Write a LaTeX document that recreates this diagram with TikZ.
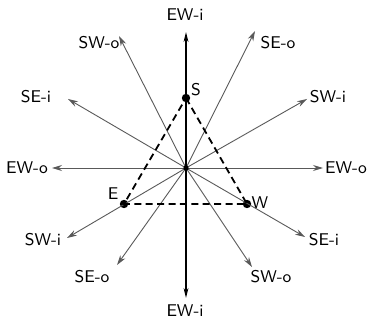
\documentclass[tikz,border=0pt]{standalone}
\usetikzlibrary{arrows.meta}
\begin{document}
\begin{tikzpicture}[x=.5pt,y=-.5pt,
    lbl/.style={font=\sffamily\fontsize{8.5}{10}\selectfont, inner sep=0pt},
    ray/.style={draw=black!65, line width=.45pt, -{Stealth[length=5pt,width=3pt]}},
    axis/.style={draw=black, line width=.7pt, -{Stealth[length=5pt,width=2.4pt]}},
    tri/.style={draw=black, line width=.9pt, dash pattern=on 3.5pt off 2.2pt},
    dot/.style={circle, fill=black, inner sep=0pt, minimum size=4.2pt}]
    \useasboundingbox (0,0) rectangle (368,330);
    % centre and station points
    \coordinate (O) at (186,168);
    \node[dot] (S) at (186,98) {};
    \node[dot] (E) at (124,204) {};
    \node[dot] (W) at (247,204) {};
    \node[lbl] (lS) at (196,90) {S};
    \node[lbl] (lE) at (113,194) {E};
    \node[lbl] (lW) at (260,203) {W};
    % arrow tips
    \coordinate (ewiU) at (186,32);
    \coordinate (ewiD) at (186,298);
    \coordinate (ewoL) at (52,168);
    \coordinate (ewoR) at (323,168);
    \coordinate (swoU) at (119,36);
    \coordinate (seoU) at (255,31);
    \coordinate (seiL) at (68,99);
    \coordinate (swiR) at (307,99);
    \coordinate (swiL) at (67,238);
    \coordinate (seiR) at (305,237);
    \coordinate (seoD) at (117,265);
    \coordinate (swoD) at (252,267);
    % labels
    \node[lbl] (lewiU) at (185,15) {EW-i};
    \node[lbl] (lewiD) at (185,311) {EW-i};
    \node[lbl] (lewoL) at (27,168) {EW-o};
    \node[lbl] (lewoR) at (346,168) {EW-o};
    \node[lbl] (lswoU) at (99,43) {SW-o};
    \node[lbl] (lseoU) at (278,43) {SE-o};
    \node[lbl] (lseiL) at (36,97) {SE-i};
    \node[lbl] (lswiR) at (328,97) {SW-i};
    \node[lbl] (lswiL) at (43,240) {SW-i};
    \node[lbl] (lseiR) at (324,240) {SE-i};
    \node[lbl] (lseoD) at (92,277) {SE-o};
    \node[lbl] (lswoD) at (271,277) {SW-o};
    % rays
    \draw[ray] (O) -- (ewoL);
    \draw[ray] (O) -- (ewoR);
    \draw[ray] (O) -- (swoU);
    \draw[ray] (O) -- (seoU);
    \draw[ray] (O) -- (seiL);
    \draw[ray] (O) -- (swiR);
    \draw[ray] (O) -- (swiL);
    \draw[ray] (O) -- (seiR);
    \draw[ray] (O) -- (seoD);
    \draw[ray] (O) -- (swoD);
    \draw[axis] (O) -- (ewiU);
    \draw[axis] (O) -- (ewiD);
    % triangle
    \draw[tri] (S.center) -- (W.center) -- (E.center) -- cycle;
    \fill (O) circle (1.3pt);
\end{tikzpicture}
\end{document}
